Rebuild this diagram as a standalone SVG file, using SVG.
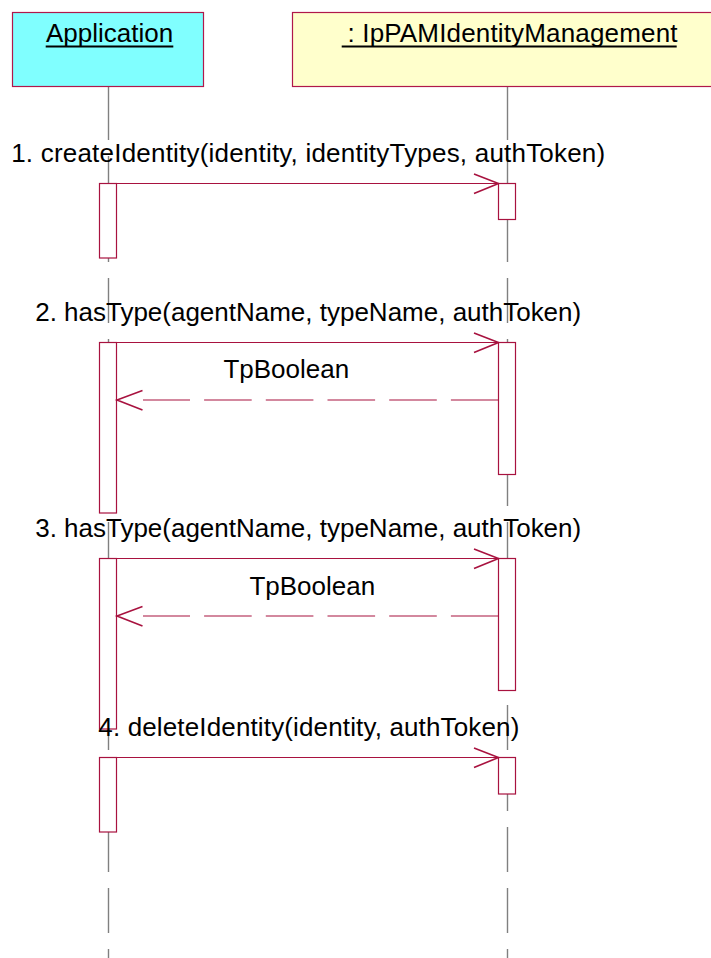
<svg xmlns="http://www.w3.org/2000/svg" width="711" height="958" viewBox="0 0 711 958">
<style>
text{font-family:"Liberation Sans",Arial,sans-serif;font-size:26px;fill:#000}
.obj{stroke:#b0184a;stroke-width:1.2}
.life{stroke:#808080;stroke-width:1.4;fill:none}
.dash{stroke-dasharray:45 16}
.act{fill:#fff;stroke:#a8123f;stroke-width:1.2}
.msg{stroke:#a8123f;stroke-width:1.2;fill:none}
.head{stroke:#a8123f;stroke-width:1.6;fill:none}
.ret{stroke:#a8123f;stroke-width:1.2;fill:none;stroke-dasharray:47.6 14.1}
.ul{stroke:#000;stroke-width:1.8}
</style>
<g id="lifelines">
<line class="life" x1="108.5" y1="87" x2="108.5" y2="140"/>
<line class="life dash" x1="108.5" y1="156" x2="108.5" y2="958"/>
<line class="life" x1="507.5" y1="87" x2="507.5" y2="140"/>
<line class="life dash" x1="507.5" y1="156" x2="507.5" y2="958"/>
</g>
<g id="app">
<rect class="obj" x="12.5" y="12.5" width="191" height="74" fill="#80ffff"/>
<text x="109.5" y="42" text-anchor="middle">Application</text>
<line class="ul" x1="45.7" y1="46.5" x2="173.3" y2="46.5"/>
</g>
<g id="ipam">
<rect class="obj" x="292.5" y="12.5" width="430" height="74" fill="#ffffcc"/>
<text x="347.5" y="42" textLength="330" lengthAdjust="spacing">: IpPAMIdentityManagement</text>
<line class="ul" x1="341.7" y1="46.5" x2="676.7" y2="46.5"/>
</g>
<g id="activations">
<rect class="act" x="99.5" y="183.5" width="17" height="74.5"/>
<rect class="act" x="498.5" y="183.5" width="17" height="36"/>
<rect class="act" x="99.5" y="342.5" width="17" height="170.5"/>
<rect class="act" x="498.5" y="342.5" width="17" height="132"/>
<rect class="act" x="99.5" y="558.5" width="17" height="170.5"/>
<rect class="act" x="498.5" y="558.5" width="17" height="132"/>
<rect class="act" x="99.5" y="757.5" width="17" height="74.5"/>
<rect class="act" x="498.5" y="757.5" width="17" height="36.5"/>
</g>
<g id="connectors">
<line class="msg" x1="116.5" y1="183.5" x2="498.5" y2="183.5"/>
<polyline class="head" points="474,174 498.5,183.5 474,193.5"/>
<line class="msg" x1="116.5" y1="342.5" x2="498.5" y2="342.5"/>
<polyline class="head" points="474,333 498.5,342.5 474,352.5"/>
<line class="ret" x1="498.5" y1="400" x2="143" y2="400"/>
<polyline class="head" points="142.5,390.5 117,400 142.5,410"/>
<line class="msg" x1="116.5" y1="558.5" x2="498.5" y2="558.5"/>
<polyline class="head" points="474,549 498.5,558.5 474,568.5"/>
<line class="ret" x1="498.5" y1="616" x2="143" y2="616"/>
<polyline class="head" points="142.5,606.5 117,616 142.5,626"/>
<line class="msg" x1="116.5" y1="757.5" x2="498.5" y2="757.5"/>
<polyline class="head" points="474,748 498.5,757.5 474,767.5"/>
</g>
<g id="labels">
<text x="11.2" y="162" textLength="594" lengthAdjust="spacing">1. createIdentity(identity, identityTypes, authToken)</text>
<text x="35.2" y="321" textLength="546" lengthAdjust="spacing">2. hasType(agentName, typeName, authToken)</text>
<text x="223.4" y="378">TpBoolean</text>
<text x="35.2" y="537" textLength="546" lengthAdjust="spacing">3. hasType(agentName, typeName, authToken)</text>
<text x="249.4" y="595">TpBoolean</text>
<text x="98.3" y="736" textLength="421" lengthAdjust="spacing">4. deleteIdentity(identity, authToken)</text>
</g>
</svg>
